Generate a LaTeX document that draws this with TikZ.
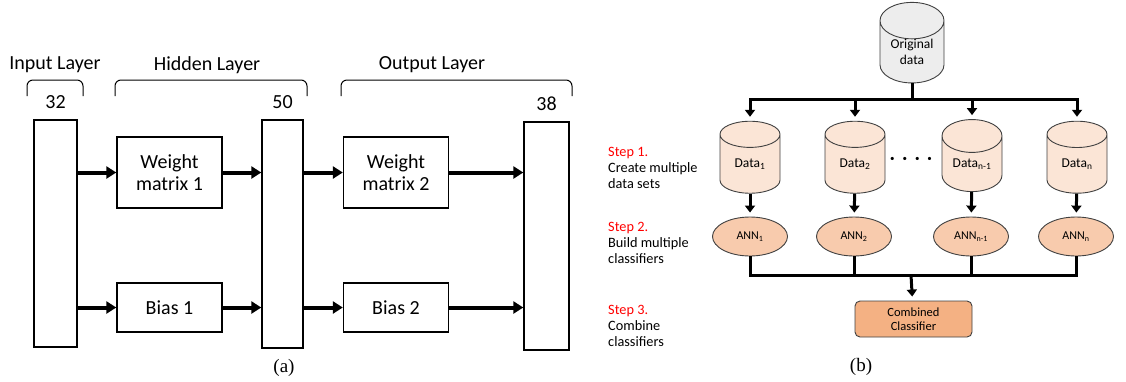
\documentclass[tikz,border=0pt]{standalone}
\usepackage{fontspec}
\setmainfont{Carlito}
\newfontfamily\capfont{Liberation Serif}
\usetikzlibrary{arrows.meta,shapes,positioning}
\definecolor{origfill}{HTML}{EDEDED}
\definecolor{datafill}{HTML}{FBE5D6}
\definecolor{annfill}{HTML}{F8CBAD}
\definecolor{combfill}{HTML}{F4B183}
\definecolor{steptext}{HTML}{FF0000}

\begin{document}
\begin{tikzpicture}[
        x=1pt, y=-1pt,
        node distance=10pt and 10pt,
        every node/.style={align=center, inner sep=0pt},
        layer/.style={draw, line width=1.4pt, minimum width=43pt, minimum height=227pt},
        block/.style={draw, line width=1.4pt, minimum width=105pt, font=\fontsize{20}{22.4}\selectfont},
        title/.style={font=\fontsize{20}{22.4}\selectfont},
        fat/.style={line width=4pt, -{Triangle[length=10pt,width=12pt]}},
        bracket/.style={line width=1pt, rounded corners=6pt},
        db/.style={draw=black!75, cylinder, shape border rotate=90, aspect=0.85, line width=0.9pt, minimum width=60pt, minimum height=72pt, fill=datafill, font=\fontsize{13.5}{16}\selectfont},
        ann/.style={draw=black!75, ellipse, fill=annfill, line width=0.9pt, minimum width=75pt, minimum height=39pt, font=\fontsize{12}{14}\selectfont},
        link/.style={line width=3pt},
        linkto/.style={link, shorten >=4pt, -{Triangle[length=7pt,width=10pt]}},
        stepnote/.style={anchor=west, align=left, font=\fontsize{14.3}{16}\selectfont},
        caption/.style={font=\capfont\fontsize{19}{21}\selectfont}
    ]
    \useasboundingbox (0,0) rectangle (1126,381);

    % (a) layers
    \node[layer] (inlay) at (55.5,233.5) {};
    \node[layer, minimum width=41pt, minimum height=228pt] (hidlay) at (282.5,234) {};
    \node[layer, minimum width=45pt, minimum height=228pt] (outlay) at (546.5,236) {};

    \node[block, minimum height=71pt] (wm1) at (169.5,172.5) {Weight\\matrix 1};
    \node[block, minimum height=49pt] (bias1) at (169.5,307.5) {Bias 1};
    \node[block, minimum height=71pt] (wm2) at (396,172.5) {Weight\\matrix 2};
    \node[block, minimum height=49pt] (bias2) at (396,307.5) {Bias 2};

    \node[title, above=of inlay] (n32) {32};
    \node[title, above=of hidlay] (n50) {50};
    \node[title, above=of outlay] (n38) {38};

    \node[title] (intitle) at (55,65) {Input Layer};
    \node[title] (hidtitle) at (207,65) {Hidden Layer};
    \node[title] (outtitle) at (432,65) {Output Layer};

    \draw[bracket] (27,96) -- (27,80) -- (83,80) -- (83,96);
    \draw[bracket] (115,96) -- (115,80) -- (307,80) -- (307,96);
    \draw[bracket] (341,96) -- (341,80) -- (572,80) -- (572,96);

    \draw[fat] (inlay.east |- wm1) -- (wm1);
    \draw[fat] (inlay.east |- bias1) -- (bias1);
    \draw[fat] (wm1) -- (hidlay.west |- wm1);
    \draw[fat] (bias1) -- (hidlay.west |- bias1);
    \draw[fat] (hidlay.east |- wm2) -- (wm2);
    \draw[fat] (hidlay.east |- bias2) -- (bias2);
    \draw[fat] (wm2) -- (outlay.west |- wm2);
    \draw[fat] (bias2) -- (outlay.west |- bias2);

    \node[caption] (capa) at (284,368) {(a)};

    % (b) data sets
    \node[db, fill=origfill, minimum width=64pt, minimum height=74pt] (orig) at (912,52) {Original\\data};
    \node[db] (d1) at (750,164) {Data\textsubscript{1}};
    \node[db] (d2) at (855,164) {Data\textsubscript{2}};
    \node[db] (dm) at (972,164) {Data\textsubscript{n-1}};
    \node[db] (dn) at (1077,164) {Data\textsubscript{n}};
    \node[font=\fontsize{9}{9}\selectfont] (dots) at (911,159) {\textbullet\hspace{8pt}\textbullet\hspace{8pt}\textbullet\hspace{8pt}\textbullet};

    \node[ann] (a1) at (750,236.5) {ANN\textsubscript{1}};
    \node[ann] (a2) at (854,236.5) {ANN\textsubscript{2}};
    \node[ann] (am) at (971,236.5) {ANN\textsubscript{n-1}};
    \node[ann] (an) at (1076,236.5) {ANN\textsubscript{n}};

    \node[draw=black!75, line width=0.9pt, rounded corners=5pt, fill=combfill, minimum width=117pt, minimum height=36pt, font=\fontsize{12.5}{13.5}\selectfont] (comb) at (913.5,319) {Combined\\Classifier};

    \node[stepnote] (step1) at (608,168) {\textcolor{steptext}{Step 1.}\\Create multiple\\data sets};
    \node[stepnote] (step2) at (608,243) {\textcolor{steptext}{Step 2.}\\Build multiple\\classifiers};
    \node[stepnote] (step3) at (608,326) {\textcolor{steptext}{Step 3.}\\Combine\\classifiers};

    \coordinate (split) at (912,99);
    \coordinate (merge) at (911,275);

    % Edges
    \draw[link] (orig) -- (split);
    \foreach \d in {d1,d2,dm,dn}
        \draw[linkto] (split) -| (\d);
    \draw[linkto] (d1) -- (a1);
    \draw[linkto] (d2) -- (a2);
    \draw[linkto] (dm) -- (am);
    \draw[linkto] (dn) -- (an);
    \foreach \a in {a1,a2,am,an}
        \draw[link] (\a) |- (merge);
    \draw[linkto] (merge) -- (comb);

    \node[caption] (capb) at (861,367) {(b)};
\end{tikzpicture}
\end{document}
